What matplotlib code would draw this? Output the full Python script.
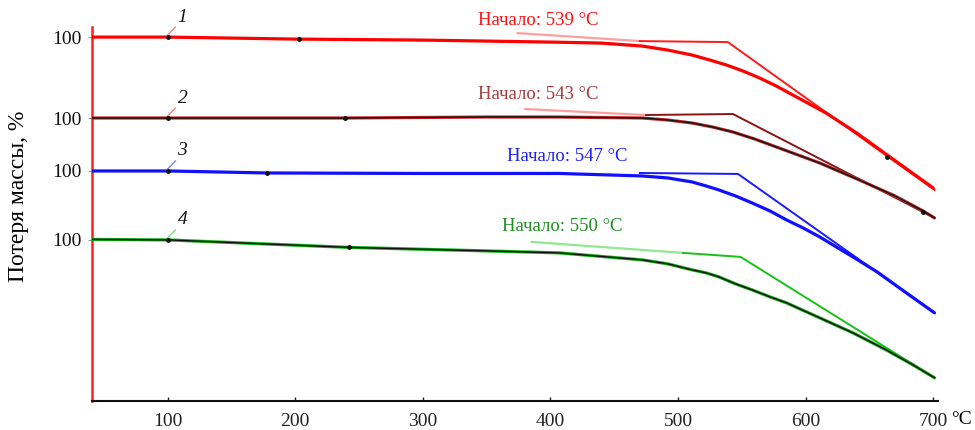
import numpy as np
import matplotlib
matplotlib.use('Agg')
import matplotlib.pyplot as plt

plt.rcParams['font.family'] = ['Liberation Serif', 'DejaVu Serif']

# temperature, degC / signal height (arbitrary units, curves are offset)
T1 = [40, 100, 200, 300, 400, 440, 472, 492, 511, 525, 538, 551, 564, 577, 590, 603, 616, 640, 665, 700]
H1 = [364, 364, 362, 361, 359, 358, 355, 351, 346, 341, 336, 330, 323, 315, 306, 297, 288, 268, 245, 213]

T2 = [40, 100, 240, 350, 407, 472, 492, 511, 527, 543, 560, 577, 594, 611, 642, 670, 692, 701]
H2 = [283, 283, 283, 284, 284, 283, 281, 278, 274, 269, 262, 254, 246, 238, 221, 205, 190, 183]

T3 = [40, 100, 178, 300, 407, 472, 492, 511, 522, 532, 545, 558, 572, 585, 598, 611, 637, 656, 680, 701]
H3 = [230, 230, 228, 227.5, 227.5, 225, 223, 219, 215, 211, 205, 198, 190, 181, 173, 164, 144, 129, 107, 88]

T4 = [40, 100, 242, 350, 407, 472, 492, 511, 522, 532, 545, 558, 572, 585, 611, 637, 663, 684, 701]
H4 = [161.5, 161, 153.5, 150, 148, 141, 137, 131, 128, 124, 117, 111, 104, 98, 83, 68, 51, 36, 23]

# onset construction: light baseline segment, then tangent lines
ONSET = [539, 543, 547, 550]
BASE_T = [[374, 470], [380, 475], [470, 470], [385, 504]]
BASE_H = [[368, 360], [292, 286], [228, 228], [159, 148]]
TAN_T = [[470, 539, 701], [475, 543, 701], [470, 547, 701], [504, 549, 701]]
TAN_H = [[360, 359, 211], [286, 287, 183], [228, 227, 88], [148, 144, 23]]

# marker dots
DOT_T = [[100, 203, 664], [100, 239, 692], [100, 178], [100, 242]]
DOT_H = [[364, 362, 244], [283, 283, 189], [230, 228], [161, 153.5]]

Y_TICKS = [364, 283, 230, 161]
Y_TICKLABELS = ['100', '100', '100', '100']
X_TICKS = [100, 200, 300, 400, 500, 600, 700]

CURVE_COLORS = ['#ff0000', '#c0282a', '#1010ff', '#10b010']
CORE_COLORS = [None, '#101010', None, '#101010']
TAN_COLORS = ['#ff1a1a', '#8a1414', '#1a1aff', '#18c018']
LIGHT_COLORS = ['#ff9e9e', '#ff9e9e', '#1a1aff', '#90e890']
LABEL_COLORS = ['#ff1010', '#a83c3c', '#2020ff', '#1f8f1f']
LEADER_COLORS = ['#ff8080', '#ff8080', '#8080ff', '#80e080']

fig = plt.figure(figsize=(9.75, 4.3), dpi=100)
ax = fig.add_axes([0.094, 0.068, 0.868, 0.869])

curves = [(T1, H1), (T2, H2), (T3, H3), (T4, H4)]
for i, (t, h) in enumerate(curves):
    # baseline extrapolation and tangents
    ax.plot(BASE_T[i], BASE_H[i], color=LIGHT_COLORS[i], lw=1.6,
            solid_capstyle='round', zorder=2)
    ax.plot(TAN_T[i], TAN_H[i], color=TAN_COLORS[i], lw=1.4, zorder=3)
    # measured curve
    ax.plot(t, h, color=CURVE_COLORS[i], lw=2.3, zorder=4,
            solid_capstyle='round', solid_joinstyle='round')
    if CORE_COLORS[i]:
        ax.plot(t, h, color=CORE_COLORS[i], lw=1.0, zorder=5,
                solid_joinstyle='round')
    ax.plot(DOT_T[i], DOT_H[i], 'o', color='#111111', ms=2.5, zorder=6)

    # curve number with short leader line
    ax.plot([100, 106], [Y_TICKS[i] + 2, Y_TICKS[i] + 10],
            color=LEADER_COLORS[i], lw=1.0, zorder=5, clip_on=False)
    ax.text(111.5, Y_TICKS[i] + 20, str(i + 1), fontsize=14, style='italic',
            ha='center', va='center', color='#111111', clip_on=False)

# onset labels
ax.text(343, 381, 'Начало: {} °C'.format(ONSET[0]), color=LABEL_COLORS[0],
        fontsize=13.5, ha='left', va='center', clip_on=False)
ax.text(343, 307, 'Начало: {} °C'.format(ONSET[1]), color=LABEL_COLORS[1],
        fontsize=13.5, ha='left', va='center')
ax.text(366, 244, 'Начало: {} °C'.format(ONSET[2]), color=LABEL_COLORS[2],
        fontsize=13.5, ha='left', va='center')
ax.text(362, 174, 'Начало: {} °C'.format(ONSET[3]), color=LABEL_COLORS[3],
        fontsize=13.5, ha='left', va='center')

ax.set_xlim(40.4, 703.7)
ax.set_ylim(0, 374)

ax.set_xticks(X_TICKS)
ax.set_xticklabels([str(v) for v in X_TICKS], fontsize=14)
ax.tick_params(axis='x', direction='in', length=3, width=1, pad=9,
               colors='#222222')
ax.set_yticks(Y_TICKS)
ax.set_yticklabels(Y_TICKLABELS, fontsize=14)
ax.tick_params(axis='y', direction='out', length=3, width=0.8, pad=4,
               color='#999999', labelcolor='#111111')

for spine in ['top', 'right']:
    ax.spines[spine].set_visible(False)
ax.spines['left'].set_color('#ff2020')
ax.spines['left'].set_linewidth(1.8)
ax.spines['bottom'].set_color('#111111')
ax.spines['bottom'].set_linewidth(1.5)

fig.text(951 / 975, 1 - 420 / 430, '°C', fontsize=14, ha='left', va='center')
fig.text(19 / 975, 1 - 196 / 430, 'Потеря массы, %', fontsize=17,
         rotation=90, ha='center', va='center')

plt.savefig('out.png', dpi=100, facecolor='white')
plt.close()
